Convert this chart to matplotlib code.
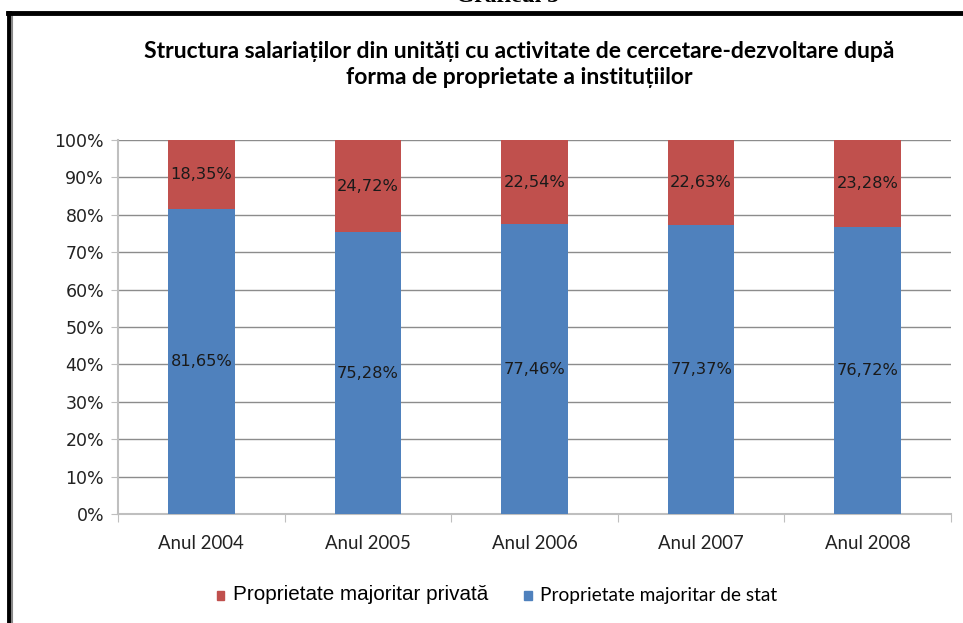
import numpy as np
import matplotlib.pyplot as plt
from matplotlib.patches import Rectangle
from matplotlib.lines import Line2D

# Data
years = ['Anul 2004', 'Anul 2005', 'Anul 2006', 'Anul 2007', 'Anul 2008']
stat = [81.65, 75.28, 77.46, 77.37, 76.72]
privat = [18.35, 24.72, 22.54, 22.63, 23.28]
y_ticks = [0, 10, 20, 30, 40, 50, 60, 70, 80, 90, 100]

blue = '#4F81BD'
red = '#C0504D'
grid_col = '#8C8C8C'
axis_col = '#BFBFBF'

fig = plt.figure(figsize=(9.63, 6.23), dpi=100)
ax = fig.add_axes([118 / 963, 1 - 514 / 623, (951 - 118) / 963, (514 - 140) / 623])

x = np.arange(len(years))
ax.bar(x, stat, width=0.4, color=blue, zorder=3)
ax.bar(x, privat, width=0.4, bottom=stat, color=red, zorder=3)

# Data labels in the middle of each segment
for xi, s, p in zip(x, stat, privat):
    ax.text(xi, s / 2, f'{s:.2f}%'.replace('.', ','), ha='center', va='center',
            fontsize=11.7, color='#1A1A1A', zorder=4)
    ax.text(xi, s + p / 2, f'{p:.2f}%'.replace('.', ','), ha='center', va='center',
            fontsize=11.7, color='#1A1A1A', zorder=4)

ax.set_xlim(-0.5, len(years) - 0.5)
ax.set_ylim(0, 100)
ax.set_yticks(y_ticks)
ax.set_yticklabels([f'{t}%' for t in y_ticks], fontsize=12.5, color='#222222')
ax.yaxis.grid(True, color=grid_col, linewidth=1, zorder=0)
ax.tick_params(axis='y', length=5, color=axis_col, pad=5)

# Category ticks between bars
ax.set_xticks(np.arange(-0.5, len(years)), minor=False)
ax.set_xticklabels([])
ax.set_xticks(x, minor=True)
ax.set_xticklabels(years, minor=True, fontsize=13.4, family='Lato', color='#222222')
ax.tick_params(axis='x', which='major', length=6, color=axis_col, direction='out')
ax.tick_params(axis='x', which='minor', length=0, pad=15)

for side in ['top', 'right']:
    ax.spines[side].set_visible(False)
ax.spines['left'].set_color(axis_col)
ax.spines['bottom'].set_color(axis_col)
ax.spines['left'].set_linewidth(1.5)
ax.spines['bottom'].set_linewidth(1.5)

# Title
fig.text(519 / 963, 1 - 51 / 623, 'Structura salariaților din unități cu activitate de cercetare-dezvoltare după',
         ha='center', va='center', fontsize=16.5, fontweight='bold', family='Lato')
fig.text(519 / 963, 1 - 77 / 623, 'forma de proprietate a instituțiilor',
         ha='center', va='center', fontsize=16.5, fontweight='bold', family='Lato')

# Heading above the frame (cut off at top, as in the source)
fig.text(507 / 963, 1 + 3 / 623, 'Graficul 3', ha='center', va='center', fontsize=17,
         fontweight='bold', family='Liberation Serif')

# Frame
fig.add_artist(Line2D([9 / 963, 9 / 963], [0, 1 - 13 / 623], transform=fig.transFigure,
                      color='black', linewidth=3.5))
fig.add_artist(Line2D([12 / 963, 12 / 963], [0, 1 - 15 / 623], transform=fig.transFigure,
                      color='#888888', linewidth=1.5))
fig.add_artist(Line2D([7.5 / 963, 1], [1 - 13 / 623, 1 - 13 / 623], transform=fig.transFigure,
                      color='black', linewidth=3.5))

# Legend
handles = [Rectangle((0, 0), 1, 1, color=red), Rectangle((0, 0), 1, 1, color=blue)]
leg = fig.legend(handles, ['Proprietate majoritar privată', 'Proprietate majoritar de stat'],
                 loc='center', bbox_to_anchor=(497 / 963, 1 - 595 / 623), ncol=2, frameon=False,
                 handlelength=0.55, handleheight=0.55, handletextpad=0.6, columnspacing=2.6)
leg.get_texts()[0].set_fontsize(14.9)
leg.get_texts()[0].set_family('Liberation Sans')
leg.get_texts()[1].set_fontsize(13.8)
leg.get_texts()[1].set_family('Lato')

fig.savefig('out.png', dpi=100)
